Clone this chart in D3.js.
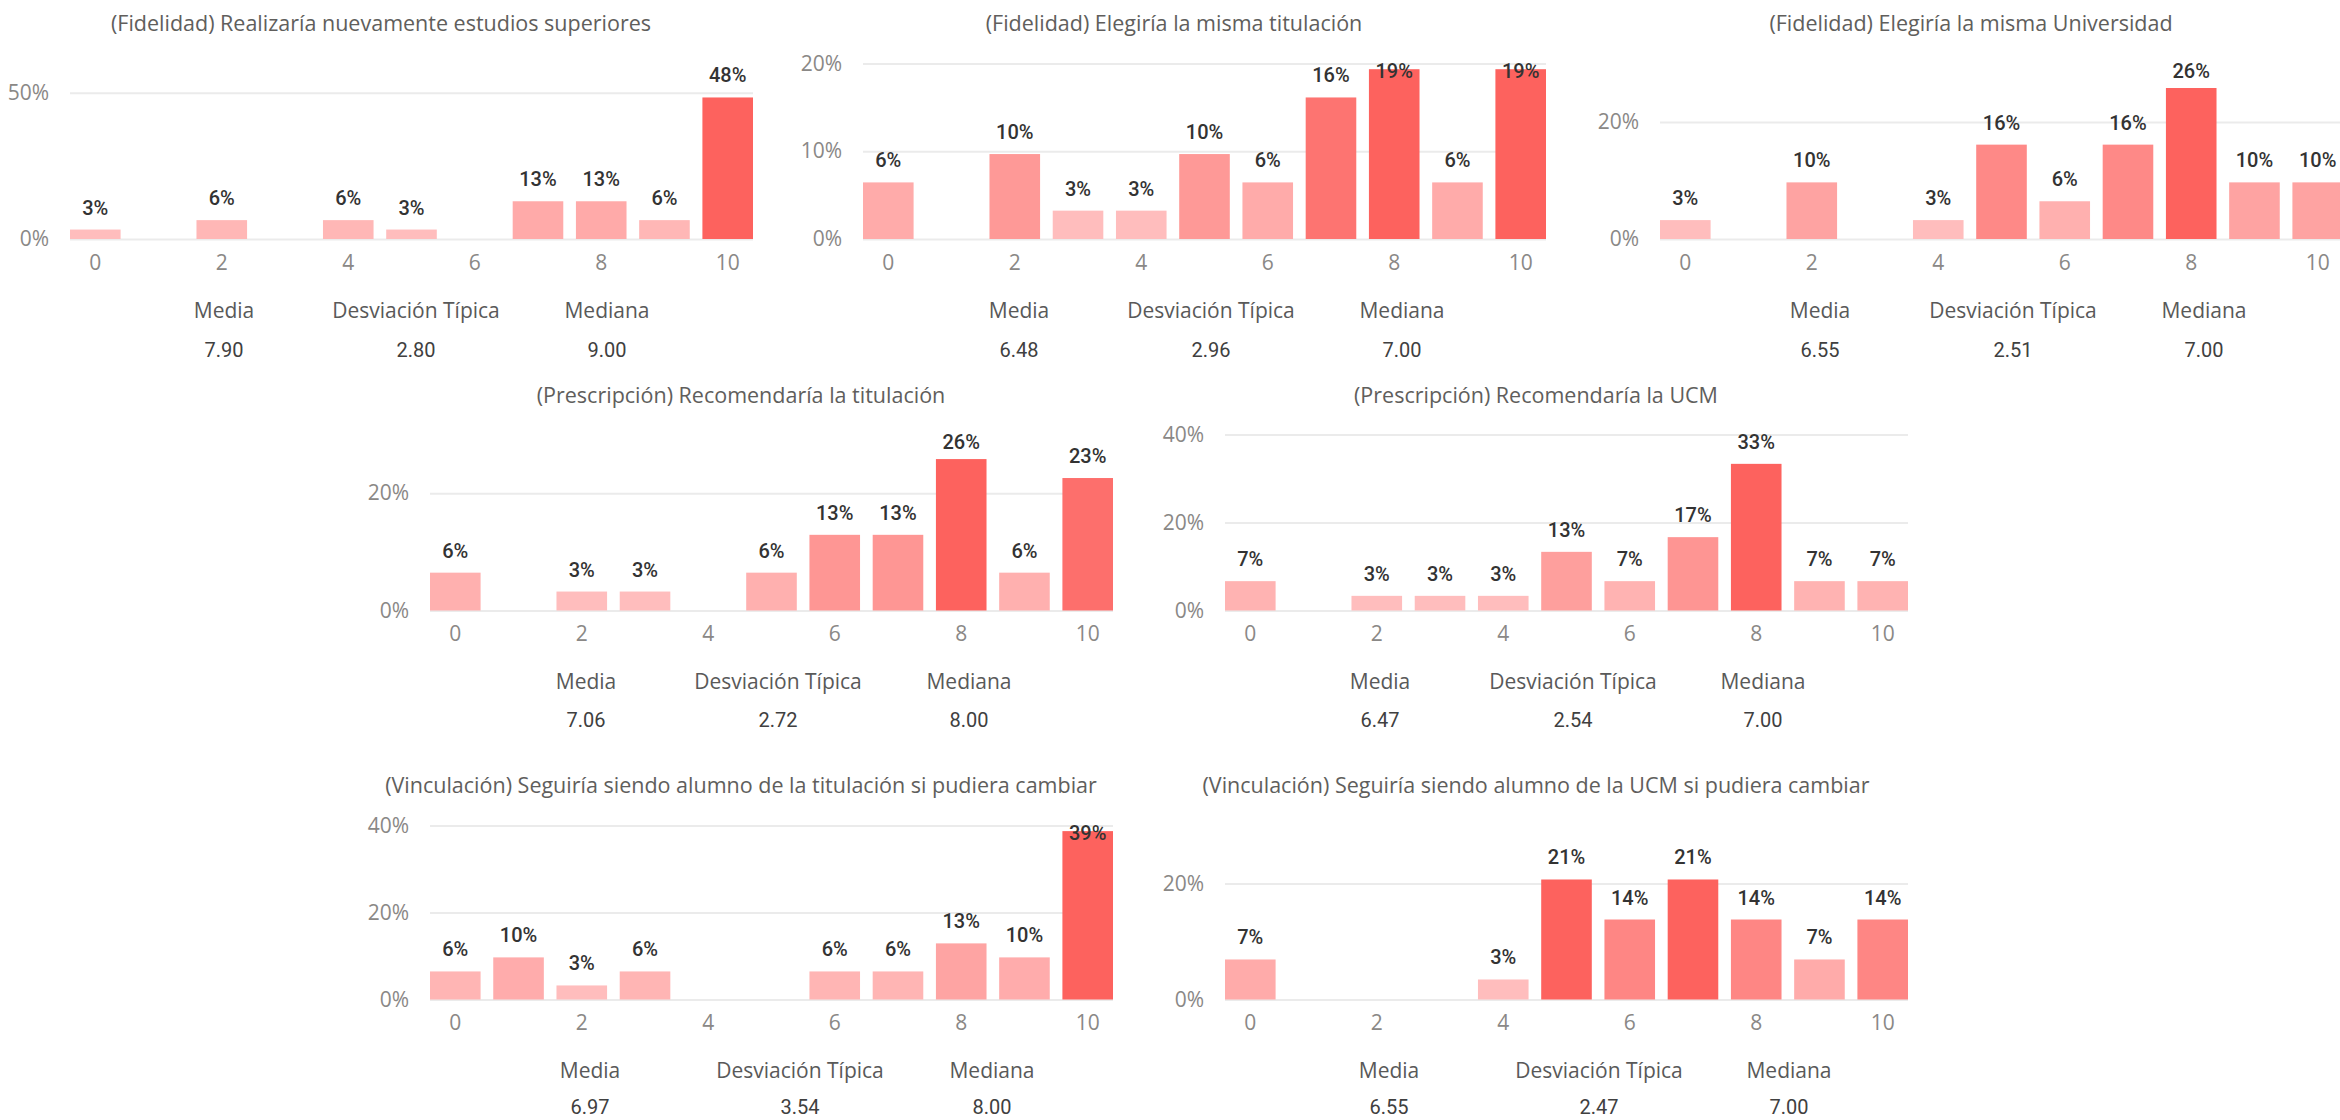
<!DOCTYPE html>
<html lang="es">
<head>
<meta charset="utf-8">
<title>Fidelidad, prescripción y vinculación</title>
<script src="https://cdn.jsdelivr.net/npm/d3@7"></script>
<style>
  html, body { margin: 0; padding: 0; background: #ffffff; }
  svg { display: block; }
</style>
</head>
<body>
<svg id="chart" width="2340" height="1120"></svg>
<script>
// Puntuaciones 0–10 y porcentaje de respuestas en cada una
const categories = [0, 1, 2, 3, 4, 5, 6, 7, 8, 9, 10];
const xTickLabels = [0, 2, 4, 6, 8, 10];

const titles = [
  "(Fidelidad) Realizaría nuevamente estudios superiores",
  "(Fidelidad) Elegiría la misma titulación",
  "(Fidelidad) Elegiría la misma Universidad",
  "(Prescripción) Recomendaría la titulación",
  "(Prescripción) Recomendaría la UCM",
  "(Vinculación) Seguiría siendo alumno de la titulación si pudiera cambiar",
  "(Vinculación) Seguiría siendo alumno de la UCM si pudiera cambiar"
];

// % de respuestas por puntuación
const realizariaEstudios   = [3.23, 0, 6.45, 0, 6.45, 3.23, 0, 12.90, 12.90, 6.45, 48.39];
const mismaTitulacion      = [6.45, 0, 9.68, 3.23, 3.23, 9.68, 6.45, 16.13, 19.35, 6.45, 19.35];
const mismaUniversidad     = [3.23, 0, 9.68, 0, 3.23, 16.13, 6.45, 16.13, 25.81, 9.68, 9.68];
const recomiendaTitulacion = [6.45, 0, 3.23, 3.23, 0, 6.45, 12.90, 12.90, 25.81, 6.45, 22.58];
const recomiendaUCM        = [6.67, 0, 3.33, 3.33, 3.33, 13.33, 6.67, 16.67, 33.33, 6.67, 6.67];
const sigueTitulacion      = [6.45, 9.68, 3.23, 6.45, 0, 0, 6.45, 6.45, 12.90, 9.68, 38.71];
const sigueUCM             = [6.90, 0, 0, 0, 3.45, 20.69, 13.79, 20.69, 13.79, 6.90, 13.79];

const seriesValues = [
  realizariaEstudios, mismaTitulacion, mismaUniversidad,
  recomiendaTitulacion, recomiendaUCM, sigueTitulacion, sigueUCM
];

// Máximo del eje Y y marcas de cada gráfico (en %)
const yMax   = [60, 20, 30, 30, 40, 40, 30];
const yTicks = [[0, 50], [0, 10, 20], [0, 20], [0, 20], [0, 20, 40], [0, 20, 40], [0, 20]];

// Estadísticos descriptivos
const statNames    = ["Media", "Desviación Típica", "Mediana"];
const medias       = ["7.90", "6.48", "6.55", "7.06", "6.47", "6.97", "6.55"];
const desviaciones = ["2.80", "2.96", "2.51", "2.72", "2.54", "3.54", "2.47"];
const medianas     = ["9.00", "7.00", "7.00", "8.00", "7.00", "8.00", "7.00"];

// Disposición de los paneles
const rows = [
  { top: 63.5,  base: 239,   title: 30.5,  statLabel: 317.5,  statValue: 356.5 },
  { top: 434.5, base: 610.5, title: 402.5, statLabel: 688.5,  statValue: 727 },
  { top: 825.5, base: 999.5, title: 792.5, statLabel: 1077.5, statValue: 1114 }
];
const panels = [
  { row: 0, left: 70,   statsDx: [154, 346, 537] },
  { row: 0, left: 863,  statsDx: [156, 348, 539] },
  { row: 0, left: 1660, statsDx: [160, 353, 544] },
  { row: 1, left: 430,  statsDx: [156, 348, 539] },
  { row: 1, left: 1225, statsDx: [155, 348, 538] },
  { row: 2, left: 430,  statsDx: [160, 370, 562] },
  { row: 2, left: 1225, statsDx: [164, 374, 564] }
];
const plotWidth = 683;

const textFont = "'Open Sans', 'Noto Sans', sans-serif";
const numFont  = "Roboto, 'DejaVu Sans Condensed', sans-serif";

const svg = d3.select("#chart");

panels.forEach((p, i) => {
  const row = rows[p.row];
  const values = seriesValues[i];
  const g = svg.append("g");

  const x = d3.scaleBand()
    .domain(categories)
    .range([p.left, p.left + plotWidth])
    .paddingInner(0.2)
    .paddingOuter(0);

  const y = d3.scaleLinear()
    .domain([0, yMax[i]])
    .range([row.base, row.top]);

  const nonZero = values.filter(v => v > 0);
  const color = d3.scaleLinear()
    .domain([d3.min(nonZero), d3.max(nonZero)])
    .range(["#ffbdbd", "#fd625e"])
    .interpolate(d3.interpolateRgb);

  // Título
  g.append("text")
    .attr("x", p.left + 311)
    .attr("y", row.title)
    .attr("text-anchor", "middle")
    .style("font-family", textFont)
    .style("font-size", "21.5px")
    .style("fill", "#605e5c")
    .text(titles[i]);

  // Líneas de cuadrícula y etiquetas del eje Y
  const yAxis = d3.axisLeft(y)
    .tickValues(yTicks[i])
    .tickSize(-plotWidth)
    .tickPadding(21)
    .tickFormat(d => d + "%");
  const ya = g.append("g")
    .attr("transform", `translate(${p.left},0)`)
    .call(yAxis);
  ya.select(".domain").remove();
  ya.selectAll(".tick line")
    .attr("stroke", "#ebebeb")
    .attr("stroke-width", 2);
  ya.selectAll(".tick text")
    .style("font-family", textFont)
    .style("font-size", "21px")
    .style("fill", "#8a8886");

  const barData = categories.map((c, k) => ({ c, v: values[k] })).filter(d => d.v > 0);

  // Barras
  g.selectAll("rect.bar")
    .data(barData)
    .join("rect")
    .attr("class", "bar")
    .attr("x", d => x(d.c))
    .attr("width", x.bandwidth())
    .attr("y", d => y(d.v))
    .attr("height", d => y(0) - y(d.v))
    .attr("fill", d => color(d.v));

  // Etiquetas de datos
  g.selectAll("text.val")
    .data(barData)
    .join("text")
    .attr("class", "val")
    .attr("x", d => x(d.c) + x.bandwidth() / 2)
    .attr("y", d => Math.max(y(d.v) - 15, row.top + 14.5))
    .attr("text-anchor", "middle")
    .style("font-family", numFont)
    .style("font-weight", 500)
    .style("font-size", "20px")
    .style("fill", "#333333")
    .text(d => Math.round(d.v) + "%");

  // Eje X
  const xAxis = d3.axisBottom(x)
    .tickValues(xTickLabels)
    .tickSize(0)
    .tickPadding(0);
  const xa = g.append("g")
    .attr("transform", `translate(0,${row.base})`)
    .call(xAxis);
  xa.select(".domain").remove();
  xa.selectAll(".tick text")
    .attr("dy", null)
    .attr("y", 30.5)
    .style("font-family", textFont)
    .style("font-size", "21px")
    .style("fill", "#8a8886");

  // Estadísticos
  const statValues = [medias[i], desviaciones[i], medianas[i]];
  statNames.forEach((name, k) => {
    const cx = p.left + p.statsDx[k];
    g.append("text")
      .attr("x", cx)
      .attr("y", row.statLabel)
      .attr("text-anchor", "middle")
      .style("font-family", textFont)
      .style("font-size", "21px")
      .style("fill", "#595959")
      .text(name);
    g.append("text")
      .attr("x", cx)
      .attr("y", row.statValue)
      .attr("text-anchor", "middle")
      .style("font-family", numFont)
      .style("font-size", "20px")
      .style("fill", "#404040")
      .text(statValues[k]);
  });
});
</script>
</body>
</html>
